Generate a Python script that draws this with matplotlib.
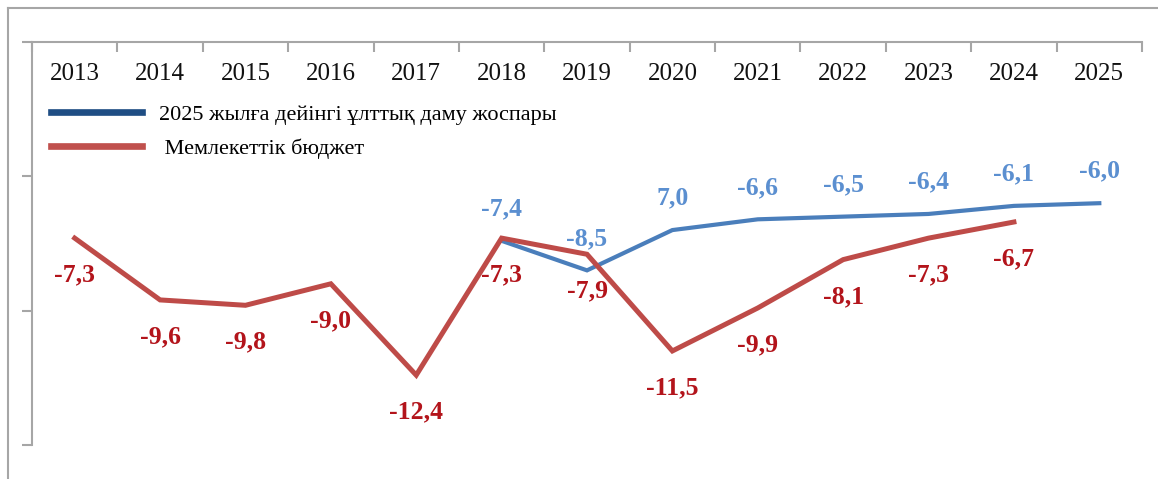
import matplotlib

matplotlib.use("Agg")

import matplotlib.pyplot as plt
from matplotlib.lines import Line2D

years = ["2013", "2014", "2015", "2016", "2017", "2018", "2019",
         "2020", "2021", "2022", "2023", "2024", "2025"]

# Мемлекеттік бюджет, 2013-2024
budget = [-7.3, -9.6, -9.8, -9.0, -12.4, -7.3, -7.9, -11.5, -9.9, -8.1, -7.3, -6.7]
budget_labels = ["-7,3", "-9,6", "-9,8", "-9,0", "-12,4", "-7,3", "-7,9",
                 "-11,5", "-9,9", "-8,1", "-7,3", "-6,7"]

# 2025 жылға дейінгі ұлттық даму жоспары, 2018-2025
plan = [-7.4, -8.5, -7.0, -6.6, -6.5, -6.4, -6.1, -6.0]
plan_labels = ["-7,4", "-8,5", "7,0", "-6,6", "-6,5", "-6,4", "-6,1", "-6,0"]

plan_name = "2025 жылға дейінгі ұлттық даму жоспары"
budget_name = " Мемлекеттік бюджет"

red_line = "#BE4B48"
red_text = "#B3141B"
blue_line = "#4A7EBB"
blue_text = "#5B8FD0"
axis_grey = "#A6A6A6"

plt.rcParams["font.family"] = ["Liberation Serif", "DejaVu Serif"]

fig = plt.figure(figsize=(11.58, 4.79), dpi=100)
ax = fig.add_axes([32 / 1158, 1 - 445 / 479, 1110 / 1158, 403 / 479])

# outer frame (top and left edges)
fig.add_artist(Line2D([8 / 1158, 1], [1 - 8 / 479, 1 - 8 / 479],
                      transform=fig.transFigure, color=axis_grey, lw=1.5))
fig.add_artist(Line2D([8 / 1158, 8 / 1158], [0, 1 - 8 / 479],
                      transform=fig.transFigure, color=axis_grey, lw=1.5))

x_budget = list(range(len(budget)))
x_plan = list(range(5, 5 + len(plan)))

ax.plot(x_plan, plan, color=blue_line, lw=3.0, solid_joinstyle="miter", zorder=2)
ax.plot(x_budget, budget, color=red_line, lw=3.6, solid_joinstyle="miter", zorder=3)

for x, y, t in zip(x_budget, budget, budget_labels):
    ax.annotate(t, (x, y), xytext=(0, -37), textcoords="offset pixels",
                ha="center", va="center", color=red_text, fontsize=18.5,
                fontweight="bold")
for x, y, t in zip(x_plan, plan, plan_labels):
    ax.annotate(t, (x, y), xytext=(0, 32), textcoords="offset pixels",
                ha="center", va="center", color=blue_text, fontsize=18.5,
                fontweight="bold")

for i, yr in enumerate(years):
    ax.text(i, -1.18, yr, ha="center", va="center", fontsize=18, color="#111111")

ax.set_xlim(-0.5, len(years) - 0.5)
ax.set_ylim(-15, 0)

ax.xaxis.tick_top()
ax.set_xticks([i - 0.5 for i in range(len(years) + 1)])
ax.set_xticklabels([])
ax.tick_params(axis="x", direction="in", length=7, width=1.5, color=axis_grey)
ax.set_yticks([0, -5, -10, -15])
ax.set_yticklabels([])
ax.tick_params(axis="y", direction="out", length=7, width=1.5, color=axis_grey)

for side in ["right", "bottom"]:
    ax.spines[side].set_visible(False)
for side in ["top", "left"]:
    ax.spines[side].set_color(axis_grey)
    ax.spines[side].set_linewidth(1.5)

handles = [Line2D([], [], color="#1F4E84", lw=4.8),
           Line2D([], [], color="#C0504D", lw=4.8)]
ax.legend(handles, [plan_name, budget_name], loc="upper left",
          bbox_to_anchor=(0.009, 0.868), frameon=False, fontsize=16,
          handlelength=4.1, handletextpad=0.75, labelspacing=0.62,
          borderaxespad=0)

fig.savefig("out.png", dpi=100)
